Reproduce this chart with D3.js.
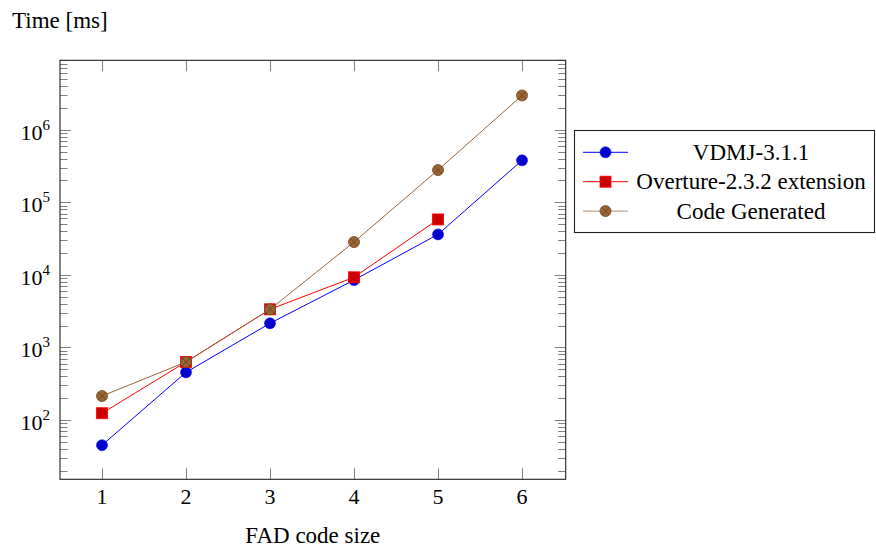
<!DOCTYPE html>
<html>
<head>
<meta charset="utf-8">
<script src="https://cdn.jsdelivr.net/npm/d3@7"></script>
<style>
  body { margin: 0; background: #fff; }
  svg { display: block; }
  svg text { font-family: 'Liberation Serif', 'Times New Roman', Times, serif; }
</style>
</head>
<body>
<div id="chart"></div>
<script>
const sizes = [1, 2, 3, 4, 5, 6];
const vdmj = [45, 454, 2150, 8470, 36100, 378000];
const overture = [124, 630, 3350, 9250, 58000];
const codeGen = [214, 630, 3350, 28300, 278000, 2960000];
const seriesNames = ['VDMJ-3.1.1', 'Overture-2.3.2 extension', 'Code Generated'];

const width = 876
    , height = 551
    , plotLeft = 60
    , plotRight = 565.7
    , plotTop = 60.3
    , plotBottom = 479.3
    ;

const series = [
  { name: seriesNames[0], values: vdmj, line: '#0000ff', fill: '#0000cc', stroke: '#0000ff', mark: 'circle' },
  { name: seriesNames[1], values: overture, line: '#ff0000', fill: '#cc0000', stroke: '#ff0000', mark: 'square' },
  { name: seriesNames[2], values: codeGen, line: '#99663a', fill: '#996633', stroke: '#6b4522', mark: 'otimes' }
];

const svg = d3.select('#chart').append('svg')
  .attr('width', width)
  .attr('height', height);

const x = d3.scaleLinear().domain([0.5, 6.52]).range([plotLeft, plotRight]);
const y = d3.scaleLog().domain([Math.pow(10, 1.183), Math.pow(10, 6.956)]).range([plotBottom, plotTop]);

function isMajor(v) {
  return Math.abs(Math.log10(v) - Math.round(Math.log10(v))) < 1e-9;
}

// ticks
const ticks = svg.append('g').attr('stroke', '#808080').attr('stroke-width', 1);
const yTicks = y.ticks().filter(v => v >= y.domain()[0] && v <= y.domain()[1]);
yTicks.forEach(v => {
  const len = isMajor(v) ? 11 : 7.5;
  const yy = Math.round(y(v)) + 0.5;
  ticks.append('line').attr('x1', plotLeft).attr('x2', plotLeft + len).attr('y1', yy).attr('y2', yy);
  ticks.append('line').attr('x1', plotRight).attr('x2', plotRight - len).attr('y1', yy).attr('y2', yy);
});
sizes.forEach(v => {
  const xx = Math.round(x(v)) + 0.5;
  ticks.append('line').attr('x1', xx).attr('x2', xx).attr('y1', plotBottom).attr('y2', plotBottom - 11);
  ticks.append('line').attr('x1', xx).attr('x2', xx).attr('y1', plotTop).attr('y2', plotTop + 11);
});

// frame
svg.append('rect')
  .attr('x', plotLeft).attr('y', plotTop)
  .attr('width', plotRight - plotLeft).attr('height', plotBottom - plotTop)
  .attr('fill', 'none').attr('stroke', '#222').attr('stroke-width', 1.1);

// tick labels
svg.append('g').selectAll('text')
  .data(sizes)
  .join('text')
    .attr('x', d => x(d))
    .attr('y', 504)
    .attr('text-anchor', 'middle')
    .attr('font-size', 22)
    .text(d => d);

const yLab = svg.append('g').selectAll('text')
  .data(yTicks.filter(isMajor))
  .join('text')
    .attr('x', 50)
    .attr('y', d => y(d) + 10)
    .attr('text-anchor', 'end')
    .attr('font-size', 22);
yLab.append('tspan').text('10');
yLab.append('tspan').attr('dy', -10).attr('font-size', 15).text(d => Math.round(Math.log10(d)));

// axis labels
svg.append('text').attr('x', 12).attr('y', 28)
  .attr('font-size', 23).text('Time [ms]');
svg.append('text').attr('x', (plotLeft + plotRight) / 2).attr('y', 543)
  .attr('text-anchor', 'middle')
  .attr('font-size', 23).text('FAD code size');

function drawMark(g, s, cx, cy) {
  if (s.mark === 'circle') {
    g.append('circle').attr('cx', cx).attr('cy', cy).attr('r', 5.5)
      .attr('fill', s.fill).attr('stroke', s.stroke).attr('stroke-width', 0.6);
  } else if (s.mark === 'square') {
    g.append('rect').attr('x', cx - 5.5).attr('y', cy - 5.5).attr('width', 11).attr('height', 11)
      .attr('fill', s.fill).attr('stroke', s.stroke).attr('stroke-width', 0.8);
  } else {
    g.append('circle').attr('cx', cx).attr('cy', cy).attr('r', 5.5)
      .attr('fill', s.fill).attr('stroke', s.stroke).attr('stroke-width', 0.8);
    const d = 5.5 * Math.SQRT1_2;
    g.append('path')
      .attr('d', `M${cx - d},${cy - d}L${cx + d},${cy + d}M${cx - d},${cy + d}L${cx + d},${cy - d}`)
      .attr('stroke', s.stroke).attr('stroke-width', 0.9);
  }
}

const line = d3.line().x(d => x(d[0])).y(d => y(d[1]));
const plot = svg.append('g');
series.forEach(s => {
  const pts = s.values.map((v, i) => [sizes[i], v]);
  plot.append('path')
    .attr('d', line(pts))
    .attr('fill', 'none')
    .attr('stroke', s.line)
    .attr('stroke-width', 1);
  const g = plot.append('g');
  pts.forEach(p => drawMark(g, s, x(p[0]), y(p[1])));
});

// legend
const lg = svg.append('g');
lg.append('rect')
  .attr('x', 574.5).attr('y', 130.5)
  .attr('width', 300).attr('height', 102)
  .attr('fill', '#fff').attr('stroke', '#222').attr('stroke-width', 1.1);
series.forEach((s, i) => {
  const yy = 152.3 + i * 29.4;
  lg.append('line').attr('x1', 583).attr('x2', 628).attr('y1', yy).attr('y2', yy)
    .attr('stroke', s.line).attr('stroke-width', 1).attr('stroke-opacity', i === 2 ? 0.75 : 1);
  drawMark(lg, s, 605.5, yy);
  lg.append('text')
    .attr('x', 751).attr('y', yy + 7.5)
    .attr('text-anchor', 'middle')
    .attr('font-size', 23)
    .text(s.name);
});
</script>
</body>
</html>
